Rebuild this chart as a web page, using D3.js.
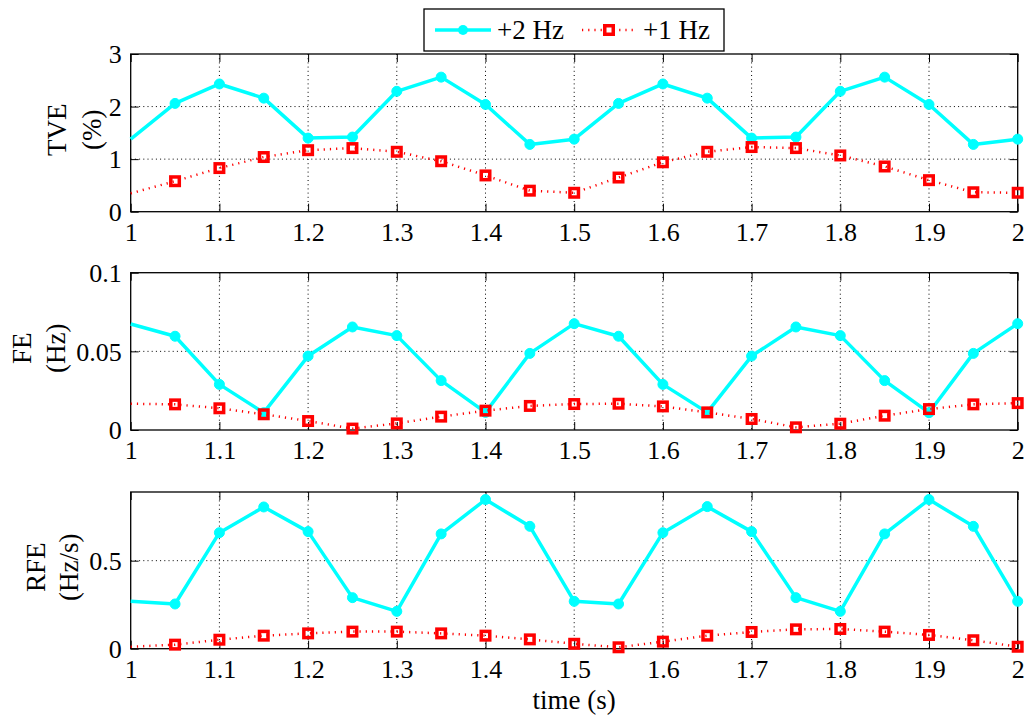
<!DOCTYPE html>
<html><head><meta charset="utf-8">
<script src="https://cdn.jsdelivr.net/npm/d3@7"></script>
<style>
body{margin:0;background:#fff}
text{font-family:"Liberation Serif","Times New Roman",serif;fill:#000}
</style>
</head><body>
<svg id="c" width="1027" height="715"></svg>
<script>
// ---- data ----
const time = [1.00,1.05,1.10,1.15,1.20,1.25,1.30,1.35,1.40,1.45,1.50,1.55,1.60,1.65,1.70,1.75,1.80,1.85,1.90,1.95,2.00];
const xTicks = [1,1.1,1.2,1.3,1.4,1.5,1.6,1.7,1.8,1.9,2];
const xTickLabels = ["1","1.1","1.2","1.3","1.4","1.5","1.6","1.7","1.8","1.9","2"];
const seriesNames = ["+2 Hz","+1 Hz"];

const tve2 = [1.38,2.06,2.43,2.16,1.40,1.42,2.29,2.56,2.04,1.28,1.38,2.06,2.43,2.16,1.40,1.42,2.29,2.56,2.04,1.28,1.38];
const tve1 = [0.35,0.58,0.83,1.04,1.17,1.21,1.14,0.96,0.69,0.40,0.36,0.65,0.94,1.14,1.23,1.21,1.07,0.86,0.60,0.37,0.36];
const fe2 = [0.0674,0.0596,0.0290,0.0110,0.0470,0.0655,0.0600,0.0314,0.0112,0.0487,0.0676,0.0596,0.0290,0.0112,0.0470,0.0655,0.0600,0.0314,0.0110,0.0487,0.0676];
const fe1 = [0.0167,0.0163,0.0138,0.0100,0.0057,0.0009,0.0042,0.0085,0.0123,0.0153,0.0165,0.0167,0.0150,0.0112,0.0070,0.0017,0.0040,0.0091,0.0133,0.0163,0.0171];
const rfe2 = [0.269,0.254,0.659,0.805,0.665,0.290,0.212,0.652,0.847,0.695,0.269,0.254,0.659,0.807,0.665,0.290,0.212,0.652,0.847,0.695,0.269];
const rfe1 = [0.011,0.023,0.051,0.074,0.087,0.097,0.097,0.087,0.074,0.053,0.028,0.008,0.040,0.074,0.095,0.110,0.112,0.097,0.078,0.048,0.011];

const tveTicks = [0,1,2,3];      const tveTickLabels = ["0","1","2","3"];
const feTicks = [0,0.05,0.1];    const feTickLabels = ["0","0.05","0.1"];
const rfeTicks = [0,0.5];        const rfeTickLabels = ["0","0.5"];

// ---- layout ----
const svg = d3.select("#c");
const X0 = 130.7, X1 = 1017.7;
const FS = 26, LFS = 27;
const x = d3.scaleLinear().domain([1,2]).range([X0,X1]);
const cyan = "#00ffff", red = "#ff0000";

const panels = [
  {top:54,   bottom:211.7, dom:[0,3],    ticks:tveTicks, labels:tveTickLabels, s2:tve2, s1:tve1, yl:["TVE","(%)"],     ylx:[57,92]},
  {top:272.7,bottom:430,   dom:[0,0.1],  ticks:feTicks,  labels:feTickLabels,  s2:fe2,  s1:fe1,  yl:["FE","(Hz)"],     ylx:[22,56]},
  {top:492,  bottom:648.7, dom:[0,0.89], ticks:rfeTicks, labels:rfeTickLabels, s2:rfe2, s1:rfe1, yl:["RFE","(Hz/s)"],  ylx:[36,69]}
];

panels.forEach(p => {
  const y = d3.scaleLinear().domain(p.dom).range([p.bottom,p.top]);
  const g = svg.append("g");
  // grid
  g.selectAll("line.vg").data(xTicks.filter(t=>t>1&&t<2)).enter().append("line")
    .attr("x1",d=>x(d)).attr("x2",d=>x(d)).attr("y1",p.top).attr("y2",p.bottom)
    .attr("stroke","#000").attr("stroke-width",1).attr("stroke-dasharray","1,3.2");
  g.selectAll("line.hg").data(p.ticks.filter(t=>t>p.dom[0]&&t<p.dom[1])).enter().append("line")
    .attr("y1",d=>y(d)).attr("y2",d=>y(d)).attr("x1",X0).attr("x2",X1)
    .attr("stroke","#000").attr("stroke-width",1).attr("stroke-dasharray","1,3.2");
  // axes via d3
  const ax = d3.axisBottom(x).tickValues(xTicks).tickFormat((d,i)=>xTickLabels[i]).tickSizeInner(-8).tickSizeOuter(0).tickPadding(11);
  const axg = g.append("g").attr("transform",`translate(0,${p.bottom})`).call(ax);
  const ay = d3.axisLeft(y).tickValues(p.ticks).tickFormat((d,i)=>p.labels[i]).tickSizeInner(-8).tickSizeOuter(0).tickPadding(9);
  const ayg = g.append("g").attr("transform",`translate(${X0},0)`).call(ay);
  // top/right ticks
  g.append("g").attr("transform",`translate(0,${p.top})`).call(d3.axisTop(x).tickValues(xTicks).tickFormat("").tickSizeInner(-8).tickSizeOuter(0));
  g.append("g").attr("transform",`translate(${X1},0)`).call(d3.axisRight(y).tickValues(p.ticks).tickFormat("").tickSizeInner(-8).tickSizeOuter(0));
  g.selectAll(".domain").remove();
  g.selectAll(".tick line").attr("stroke","#000").attr("stroke-width",1);
  [axg,ayg].forEach(a=>a.selectAll("text").attr("font-size",FS).attr("font-family","Liberation Serif").attr("fill","#000"));
  ayg.selectAll("text").attr("dy","0.34em");
  axg.selectAll("text").attr("dy","0.71em");
  // box
  g.append("rect").attr("x",X0).attr("y",p.top).attr("width",X1-X0).attr("height",p.bottom-p.top)
    .attr("fill","none").attr("stroke","#000").attr("stroke-width",1.3);
  // y labels
  const cy = (p.top+p.bottom)/2 - 3;
  p.yl.forEach((t,i)=>{
    g.append("text").attr("transform",`translate(${p.ylx[i]},${cy}) rotate(-90)`)
      .attr("text-anchor","middle").attr("dy","0.33em").attr("font-size",LFS).text(t);
  });
  // series
  const line = d3.line().x((d,i)=>x(time[i])).y(d=>y(d));
  g.append("path").datum(p.s2).attr("d",line).attr("fill","none").attr("stroke",cyan)
    .attr("stroke-width",3.5).attr("stroke-linejoin","round");
  g.selectAll("circle").data(p.s2.map((v,i)=>[time[i],v]).filter(d=>d[0]>1)).enter().append("circle")
    .attr("cx",d=>x(d[0])).attr("cy",d=>y(d[1])).attr("r",5).attr("fill",cyan).attr("stroke",cyan).attr("stroke-width",1);
  g.append("path").datum(p.s1).attr("d",line).attr("fill","none").attr("stroke",red)
    .attr("stroke-width",2.5).attr("stroke-dasharray","1.2,5");
  const sq = 8.5;
  g.selectAll("rect.m").data(p.s1.map((v,i)=>[time[i],v]).filter(d=>d[0]>1)).enter().append("rect").attr("class","m")
    .attr("x",d=>x(d[0])-sq/2).attr("y",d=>y(d[1])-sq/2).attr("width",sq).attr("height",sq)
    .attr("fill","none").attr("stroke",red).attr("stroke-width",3.5);
});

// x label
svg.append("text").attr("x",(X0+X1)/2).attr("y",709).attr("text-anchor","middle").attr("font-size",LFS).text("time (s)");

// legend
const lg = svg.append("g");
lg.append("rect").attr("x",424).attr("y",9).attr("width",300).attr("height",42).attr("fill","#fff").attr("stroke","#000").attr("stroke-width",1.3);
const ly = 30;
lg.append("line").attr("x1",435).attr("x2",491).attr("y1",ly).attr("y2",ly).attr("stroke",cyan).attr("stroke-width",3.5);
lg.append("circle").attr("cx",463).attr("cy",ly).attr("r",5).attr("fill",cyan);
lg.append("text").attr("x",497).attr("y",ly).attr("dy","0.34em").attr("font-size",LFS).text(seriesNames[0]);
lg.append("line").attr("x1",582).attr("x2",634).attr("y1",ly).attr("y2",ly).attr("stroke",red).attr("stroke-width",2.5).attr("stroke-dasharray","1.2,5");
lg.append("rect").attr("x",609-4.25).attr("y",ly-4.25).attr("width",8.5).attr("height",8.5).attr("fill","#fff").attr("stroke",red).attr("stroke-width",3.5);
lg.append("text").attr("x",643).attr("y",ly).attr("dy","0.34em").attr("font-size",LFS).text(seriesNames[1]);
</script>
</body></html>
